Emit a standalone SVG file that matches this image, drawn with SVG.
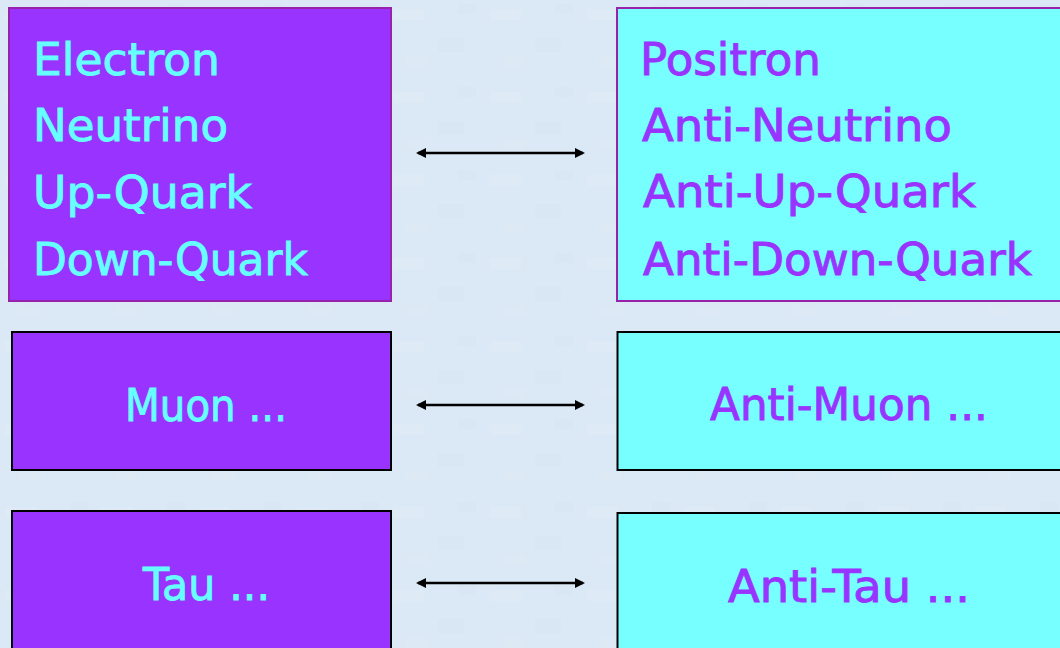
<svg xmlns="http://www.w3.org/2000/svg" width="1060" height="648" viewBox="0 0 1060 648">
<style>
.txt{font-family:"DejaVu Sans","Liberation Sans",sans-serif;font-size:44px;stroke-width:0.9px}
.pbox{fill:#9933ff}
.cbox{fill:#77ffff}
.pt{fill:#66ffff;stroke:#66ffff}
.ct{fill:#9933ff;stroke:#9933ff}
.conn{stroke:#000;stroke-width:2.5;fill:none;marker-start:url(#ah);marker-end:url(#ah)}
</style>
<defs>
<marker id="ah" viewBox="0 0 10 10" refX="8" refY="5" markerWidth="11" markerHeight="10" orient="auto-start-reverse" markerUnits="userSpaceOnUse">
<path d="M0,0 L10,5 L0,10 z" fill="#000"/>
</marker>
<pattern id="tex" width="97" height="83" patternUnits="userSpaceOnUse">
<rect width="97" height="83" fill="#dbe8f5"/>
<rect x="5" y="9" width="31" height="11" fill="#e1edf8" opacity="0.5"/>
<rect x="50" y="38" width="26" height="14" fill="#d6e4f3" opacity="0.4"/>
<rect x="18" y="57" width="22" height="9" fill="#e1edf8" opacity="0.4"/>
<rect x="70" y="4" width="18" height="10" fill="#d7e5f3" opacity="0.4"/>
</pattern>
</defs>
<rect width="1060" height="648" fill="url(#tex)"/>
<g id="electron-group">
<rect class="pbox" x="9" y="8" width="382" height="293" stroke="#9922aa" stroke-width="2"/>
<text class="txt pt" x="33" y="75" textLength="187" lengthAdjust="spacingAndGlyphs">Electron</text>
<text class="txt pt" x="33" y="141" textLength="195" lengthAdjust="spacingAndGlyphs">Neutrino</text>
<text class="txt pt" x="33" y="208" textLength="219" lengthAdjust="spacingAndGlyphs">Up-Quark</text>
<text class="txt pt" x="33" y="275" textLength="275" lengthAdjust="spacingAndGlyphs">Down-Quark</text>
</g>
<g id="positron-group">
<rect class="cbox" x="617" y="8" width="450" height="293" stroke="#9922aa" stroke-width="2"/>
<text class="txt ct" x="640" y="75" textLength="181" lengthAdjust="spacingAndGlyphs">Positron</text>
<text class="txt ct" x="642" y="141" textLength="310" lengthAdjust="spacingAndGlyphs">Anti-Neutrino</text>
<text class="txt ct" x="643" y="207" textLength="333" lengthAdjust="spacingAndGlyphs">Anti-Up-Quark</text>
<text class="txt ct" x="643" y="275" textLength="389" lengthAdjust="spacingAndGlyphs">Anti-Down-Quark</text>
</g>
<g id="muon">
<rect class="pbox" x="12" y="332" width="379" height="138" stroke="#000" stroke-width="2"/>
<text class="txt pt" x="125" y="421" textLength="162" lengthAdjust="spacingAndGlyphs">Muon ...</text>
</g>
<g id="anti-muon">
<rect class="cbox" x="617.5" y="332" width="450" height="138" stroke="#000" stroke-width="2"/>
<text class="txt ct" x="710" y="420" textLength="278" lengthAdjust="spacingAndGlyphs">Anti-Muon ...</text>
</g>
<g id="tau">
<rect class="pbox" x="12" y="511" width="379" height="150" stroke="#000" stroke-width="2"/>
<text class="txt pt" x="143" y="600" textLength="127" lengthAdjust="spacingAndGlyphs">Tau ...</text>
</g>
<g id="anti-tau">
<rect class="cbox" x="617.5" y="513" width="450" height="150" stroke="#000" stroke-width="2"/>
<text class="txt ct" x="728" y="602" textLength="242" lengthAdjust="spacingAndGlyphs">Anti-Tau ...</text>
</g>
<g id="connectors">
<line class="conn" x1="418" y1="153" x2="583" y2="153"/>
<line class="conn" x1="418" y1="405" x2="583" y2="405"/>
<line class="conn" x1="418" y1="583" x2="583" y2="583"/>
</g>
</svg>
